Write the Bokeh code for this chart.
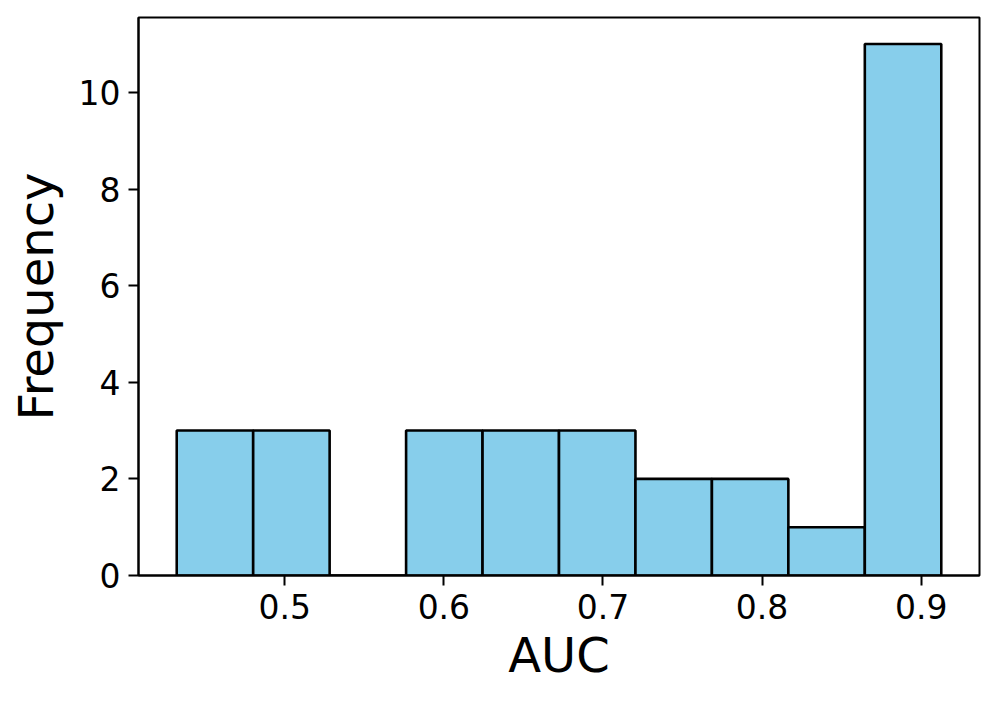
from bokeh.plotting import figure
from bokeh.models import Range1d, FixedTicker, ColumnDataSource
from bokeh.embed import file_html
from bokeh.resources import INLINE

# Histogram data
bin_start = 0.4321
bin_width = 0.04805
counts = [3, 3, 0, 3, 3, 3, 2, 2, 1, 11]
x_ticks = [0.5, 0.6, 0.7, 0.8, 0.9]
y_ticks = [0, 2, 4, 6, 8, 10]
x_label = "AUC"
y_label = "Frequency"

lefts = [bin_start + i * bin_width for i in range(len(counts))]
rights = [l + bin_width for l in lefts]
src = ColumnDataSource(dict(left=lefts, right=rights, top=counts, bottom=[0] * len(counts)))

x_lo = lefts[0] - 0.05 * (rights[-1] - lefts[0])
x_hi = rights[-1] + 0.05 * (rights[-1] - lefts[0])
y_hi = max(counts) * 1.05

p = figure(frame_width=841, frame_height=558, output_backend="svg", toolbar_location=None,
           x_range=Range1d(x_lo, x_hi), y_range=Range1d(0, y_hi),
           min_border_left=138, min_border_top=17, min_border_right=10, min_border_bottom=10)
p.quad(left="left", right="right", top="top", bottom="bottom", source=src,
       fill_color="#87CEEB", line_color="black", line_width=2.6)

p.xgrid.visible = False
p.ygrid.visible = False
p.outline_line_color = "black"
p.outline_line_width = 2
p.outline_line_alpha = 1

FONT = "DejaVu Sans"
for ax in (p.xaxis[0], p.yaxis[0]):
    ax.axis_line_color = "black"
    ax.axis_line_width = 2
    ax.major_tick_line_color = "black"
    ax.major_tick_line_width = 2
    ax.major_tick_out = 10
    ax.major_tick_in = 0
    ax.minor_tick_line_color = None
    ax.major_label_text_font = FONT
    ax.major_label_text_font_size = "33px"
    ax.major_label_text_color = "black"
    ax.major_label_standoff = 8
    ax.axis_label_text_font = FONT
    ax.axis_label_text_font_size = "48px"
    ax.axis_label_text_font_style = "normal"
    ax.axis_label_text_color = "black"

p.xaxis[0].ticker = FixedTicker(ticks=x_ticks)
p.yaxis[0].ticker = FixedTicker(ticks=y_ticks)
p.xaxis[0].axis_label = x_label
p.yaxis[0].axis_label = y_label
p.xaxis[0].axis_label_standoff = 5
p.yaxis[0].axis_label_standoff = 12

open("out.html", "w").write(file_html(p, INLINE))
